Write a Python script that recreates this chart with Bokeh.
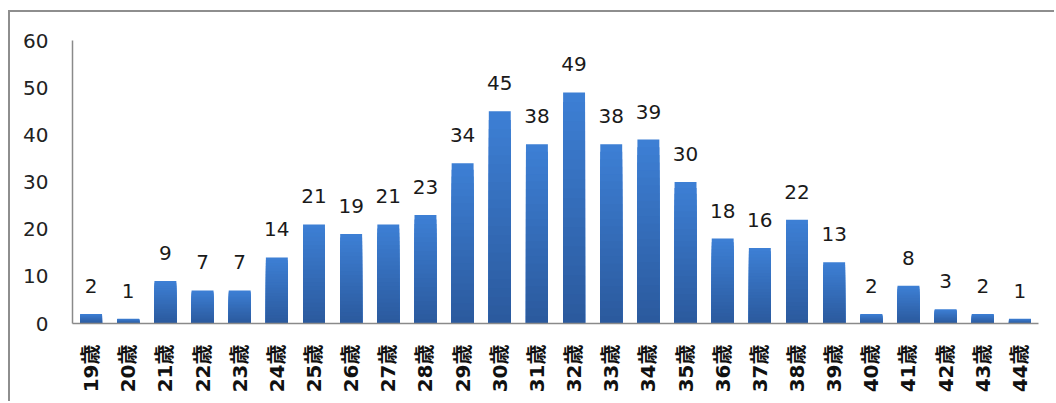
from bokeh.plotting import figure
from bokeh.models import ColumnDataSource, FactorRange, Range1d, FixedTicker
from bokeh.core.properties import value
from bokeh.embed import file_html
from bokeh.resources import INLINE
import math

# ---- data ----
ages = ["19歳", "20歳", "21歳", "22歳", "23歳", "24歳", "25歳", "26歳", "27歳",
        "28歳", "29歳", "30歳", "31歳", "32歳", "33歳", "34歳", "35歳", "36歳",
        "37歳", "38歳", "39歳", "40歳", "41歳", "42歳", "43歳", "44歳"]
counts = [2, 1, 9, 7, 7, 14, 21, 19, 21, 23, 34, 45, 38, 49, 38, 39, 30, 18,
          16, 22, 13, 2, 8, 3, 2, 1]
y_ticks = [0, 10, 20, 30, 40, 50, 60]

p = figure(x_range=FactorRange(*ages, range_padding=0), y_range=Range1d(0, 60),
           width=1046, height=391, output_backend="svg", toolbar_location=None,
           min_border_left=62, min_border_right=18, min_border_top=28,
           min_border_bottom=80,
           styles={"margin-left": "8px", "margin-top": "10px",
                   "border-left": "2px solid #8e8e8e",
                   "border-top": "2px solid #8e8e8e"})
p.outline_line_color = None
p.xgrid.grid_line_color = None
p.ygrid.grid_line_color = None
p.background_fill_color = "white"
p.border_fill_color = "white"

# gradient bars: light at top, dark at bottom
top_rgb = (0x3d, 0x7f, 0xd4)
bot_rgb = (0x2b, 0x5a, 0x9e)
N = 24
for k in range(N):
    t = k / (N - 1)
    c = tuple(int(round(top_rgb[i] + (bot_rgb[i] - top_rgb[i]) * t)) for i in range(3))
    col = "#%02x%02x%02x" % c
    frac = (N - k) / N
    src = ColumnDataSource(dict(x=ages, top=[v * frac for v in counts]))
    p.vbar(x="x", top="top", bottom=0, width=0.59, source=src,
           fill_color=col, line_color=None)

lab = ColumnDataSource(dict(x=ages, y=counts, t=[str(v) for v in counts]))
p.text(x="x", y="y", text="t", source=lab, text_align="center",
       text_baseline="alphabetic", y_offset=-28, text_font_size="20px",
       text_font=value("DejaVu Sans"), text_color="#1a1a1a")

ya = p.yaxis[0]
ya.ticker = FixedTicker(ticks=y_ticks)
ya.axis_line_color = "#8a8a8a"
ya.axis_line_width = 1.5
ya.major_tick_line_color = None
ya.minor_tick_line_color = None
ya.major_label_standoff = 18
ya.major_label_text_font = "DejaVu Sans"
ya.major_label_text_font_size = "20px"
ya.major_label_text_color = "#222222"

xa = p.xaxis[0]
xa.axis_line_color = "#8a8a8a"
xa.axis_line_width = 1.5
xa.major_tick_line_color = None
xa.minor_tick_line_color = None
xa.major_label_orientation = math.pi / 2
xa.major_label_standoff = 15
xa.major_label_text_font = "DejaVu Sans, Noto Sans CJK JP"
xa.major_label_text_font_style = "bold"
xa.major_label_text_font_size = "20px"
xa.major_label_text_color = "#111111"

open("out.html", "w").write(file_html(p, INLINE))
